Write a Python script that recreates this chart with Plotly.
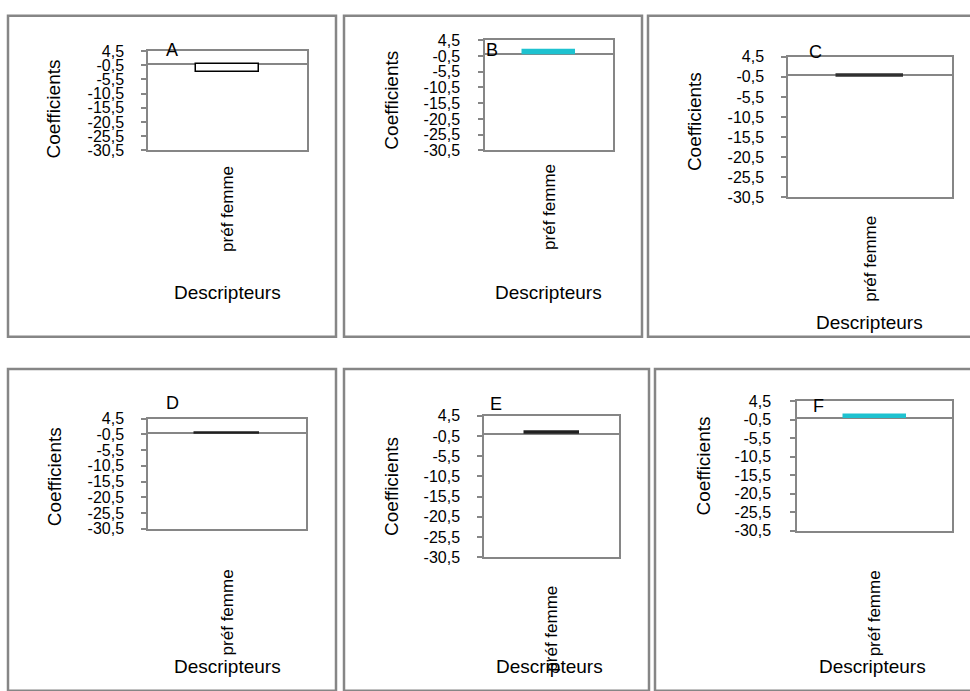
import plotly.graph_objects as go

# Panel data: one descriptor, one coefficient per model
panels = ["A", "B", "C", "D", "E", "F"]
category = ["préf femme"]
coefficients = [-3.0, 1.3, -0.4, -0.3, 0.6, 0.7]
bar_fill = ["white", "#1EC2D0", "#303030", "#202020", "#202020", "#1EC2D0"]
bar_edge = ["black", "#1EC2D0", "#303030", "#202020", "#202020", "#1EC2D0"]

# Y axis ticks
tick_values = [4.5, -0.5, -5.5, -10.5, -15.5, -20.5, -25.5, -30.5]
tick_labels = ["4,5", "-0,5", "-5,5", "-10,5", "-15,5", "-20,5", "-25,5", "-30,5"]
y_range = [-30.5, 4.5]

W, H = 970, 691
GRAY = "#868686"
FONT = "Liberation Sans, Arial, sans-serif"

# Layout in pixels: plot box (left, top, right, bottom), frame box, text anchors
plot_boxes = [
    (148, 44, 307, 146),
    (485, 33, 613, 146),
    (788, 50, 952, 194),
    (148, 421, 306, 534),
    (484, 418, 619, 563),
    (797, 403, 952, 536),
]
frames = [
    (8, 8, 336, 337),
    (344, 8, 642, 337),
    (648, 8, 980, 337),
    (8, 370, 336, 700),
    (344, 370, 649, 700),
    (655, 370, 980, 700),
]
letter_pos = [(172, 43), (492, 43), (815, 45), (172, 405), (496, 406), (818, 408)]
ytitle_pos = [(53, 104), (392, 95), (694, 117), (54, 481), (392, 491), (703, 470)]
xtitle_pos = [(227, 292), (548, 292), (869, 322), (227, 675), (549, 675), (872, 675)]
label_standoff = [7, 5, 10, 32, 20, 31]
ytick_standoff = [14, 15, 14, 14, 14, 16]


def px(x):
    return x / W


def py(y):
    return 1 - y / H


fig = go.Figure()
shapes = []
annotations = []

for i, name in enumerate(panels):
    n = "" if i == 0 else str(i + 1)
    l, t, r, b = plot_boxes[i]

    fig.add_trace(go.Bar(
        x=category,
        y=[coefficients[i]],
        width=0.4,
        marker=dict(color=bar_fill[i], line=dict(color=bar_edge[i], width=1.5)),
        xaxis="x" + n,
        yaxis="y" + n,
        showlegend=False,
        hoverinfo="skip",
    ))

    fig.layout["xaxis" + n] = dict(
        domain=[px(l), px(r)],
        anchor="y" + n,
        type="category",
        showline=True,
        mirror=True,
        linecolor=GRAY,
        linewidth=1.5,
        ticks="",
        tickangle=-90,
        ticklabelstandoff=label_standoff[i],
        tickfont=dict(family=FONT, size=17, color="black"),
        showgrid=False,
        zeroline=False,
        fixedrange=True,
    )
    fig.layout["yaxis" + n] = dict(
        domain=[py(b), py(t)],
        anchor="x" + n,
        range=y_range,
        tickvals=tick_values,
        ticktext=tick_labels,
        showline=True,
        mirror=True,
        linecolor=GRAY,
        linewidth=1.5,
        ticks="outside",
        ticklen=5,
        tickcolor=GRAY,
        tickwidth=1.5,
        ticklabelstandoff=ytick_standoff[i],
        tickfont=dict(family=FONT, size=16, color="black"),
        showgrid=False,
        zeroline=True,
        zerolinecolor=GRAY,
        zerolinewidth=1.5,
        fixedrange=True,
    )

    fl, ft, fr, fb = frames[i]
    shapes.append(dict(
        type="rect", xref="paper", yref="paper",
        x0=px(fl), x1=px(fr), y0=py(fb), y1=py(ft),
        line=dict(color=GRAY, width=2.5), fillcolor="rgba(0,0,0,0)",
        layer="below",
    ))

    lx, ly = letter_pos[i]
    annotations.append(dict(
        text=name, x=px(lx), y=py(ly), xref="paper", yref="paper",
        showarrow=False, xanchor="center", yanchor="middle",
        font=dict(family=FONT, size=18, color="black"),
    ))
    yx, yy = ytitle_pos[i]
    annotations.append(dict(
        text="Coefficients", x=px(yx), y=py(yy), xref="paper", yref="paper",
        showarrow=False, xanchor="center", yanchor="middle", textangle=-90,
        font=dict(family=FONT, size=19, color="black"),
    ))
    xx, xy = xtitle_pos[i]
    annotations.append(dict(
        text="Descripteurs", x=px(xx), y=py(xy), xref="paper", yref="paper",
        showarrow=False, xanchor="center", yanchor="middle",
        font=dict(family=FONT, size=19, color="black"),
    ))

fig.update_layout(
    width=W,
    height=H,
    margin=dict(l=0, r=0, t=0, b=0),
    paper_bgcolor="white",
    plot_bgcolor="white",
    showlegend=False,
    bargap=0,
    shapes=shapes,
    annotations=annotations,
)

fig.write_html("out.html")
